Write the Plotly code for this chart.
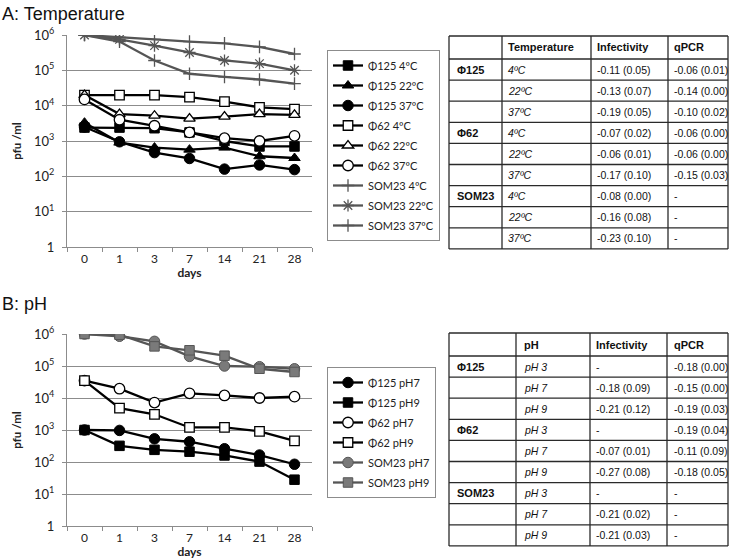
import plotly.graph_objects as go

days = ["0", "1", "3", "7", "14", "21", "28"]

# Panel A: Temperature (pfu/ml)
phi125_4 = [2400, 2400, 2300, 1750, 1000, 700, 700]
phi125_22 = [3300, 900, 650, 570, 650, 370, 330]
phi125_37 = [2500, 950, 470, 320, 160, 210, 155]
phi62_4 = [20000, 20000, 20000, 17500, 13000, 9000, 8000]
phi62_22 = [20000, 5800, 5200, 4300, 4900, 5800, 5500]
phi62_37 = [15000, 4000, 2700, 1750, 1200, 1000, 1400]
som23_4 = [1000000, 850000, 750000, 650000, 580000, 460000, 290000]
som23_22 = [1000000, 750000, 500000, 320000, 190000, 155000, 100000]
som23_37 = [1000000, 650000, 190000, 80000, 65000, 55000, 42000]

# Panel B: pH (pfu/ml)
phi125_ph7 = [1000, 970, 530, 430, 260, 165, 85]
phi125_ph9 = [1000, 320, 240, 210, 160, 103, 28]
phi62_ph7 = [35000, 19500, 7200, 14000, 12000, 10000, 11000]
phi62_ph9 = [35000, 4800, 3100, 1200, 1200, 910, 460]
som23_ph7 = [1000000, 850000, 590000, 200000, 100000, 95000, 82000]
som23_ph9 = [1000000, 950000, 410000, 310000, 210000, 82000, 65000]

ytick_vals = [1, 10, 100, 1000, 10000, 100000, 1000000]
ytick_text = ["1", "10<sup>1</sup>", "10<sup>2</sup>", "10<sup>3</sup>",
              "10<sup>4</sup>", "10<sup>5</sup>", "10<sup>6</sup>"]

# Tables
tA_header = ["", "Temperature", "Infectivity", "qPCR"]
tA_group = ["Φ125", "", "", "Φ62", "", "", "SOM23", "", ""]
tA_cond = ["4ºC", "22ºC", "37ºC"] * 3
tA_inf = ["-0.11 (0.05)", "-0.13 (0.07)", "-0.19 (0.05)", "-0.07 (0.02)", "-0.06 (0.01)",
          "-0.17 (0.10)", "-0.08 (0.00)", "-0.16 (0.08)", "-0.23 (0.10)"]
tA_qpcr = ["-0.06 (0.01)", "-0.14 (0.00)", "-0.10 (0.02)", "-0.06 (0.00)", "-0.06 (0.00)",
           "-0.15 (0.03)", "-", "-", "-"]

tB_header = ["", "pH", "Infectivity", "qPCR"]
tB_group = ["Φ125", "", "", "Φ62", "", "", "SOM23", "", ""]
tB_cond = ["pH 3", "pH 7", "pH 9"] * 3
tB_inf = ["-", "-0.18 (0.09)", "-0.21 (0.12)", "-", "-0.07 (0.01)", "-0.27 (0.08)",
          "-", "-0.21 (0.02)", "-0.21 (0.03)"]
tB_qpcr = ["-0.18 (0.00)", "-0.15 (0.00)", "-0.19 (0.03)", "-0.19 (0.04)", "-0.11 (0.09)",
           "-0.18 (0.05)", "-", "-", "-"]

W, H = 740, 559
BLACK = "#000000"
GRAY = "#555555"
GRAYM = "#7a7a7a"
GRID = "#8c8c8c"

fig = go.Figure()


def add(y, name, symbol, color, fill, mline, xa, ya, legend, size=9.5, lw=2.3, mlw=1):
    fig.add_trace(go.Scatter(
        x=days, y=y, name=name, mode="lines+markers", legendgroup=name,
        line=dict(color=color, width=lw),
        marker=dict(symbol=symbol, size=size, color=fill,
                    line=dict(color=mline, width=mlw)),
        xaxis=xa, yaxis=ya, legend=legend))


# Panel A
add(phi125_4, "Φ125 4ºC", "square", BLACK, BLACK, BLACK, "x", "y", "legend")
add(phi125_22, "Φ125 22ºC", "triangle-up", BLACK, BLACK, BLACK, "x", "y", "legend", size=10)
add(phi125_37, "Φ125 37ºC", "circle", BLACK, BLACK, BLACK, "x", "y", "legend", size=10.5)
add(phi62_4, "Φ62 4ºC", "square", BLACK, "white", BLACK, "x", "y", "legend", mlw=1.3)
add(phi62_22, "Φ62 22ºC", "triangle-up", BLACK, "white", BLACK, "x", "y", "legend", size=10, mlw=1.3)
add(phi62_37, "Φ62 37ºC", "circle", BLACK, "white", BLACK, "x", "y", "legend", size=10.5, mlw=1.3)
add(som23_4, "SOM23 4ºC", "cross-thin-open", GRAY, GRAY, GRAY, "x", "y", "legend", size=9, mlw=1.3)
add(som23_22, "SOM23 22ºC", "asterisk-open", GRAY, GRAY, GRAY, "x", "y", "legend", size=10, mlw=1.3)
add(som23_37, "SOM23 37ºC", "cross-thin-open", GRAY, GRAY, GRAY, "x", "y", "legend", size=9, mlw=1.3)

# Panel B
add(phi125_ph7, "Φ125 pH7", "circle", BLACK, BLACK, BLACK, "x2", "y2", "legend2", size=10.5)
add(phi125_ph9, "Φ125 pH9", "square", BLACK, BLACK, BLACK, "x2", "y2", "legend2")
add(phi62_ph7, "Φ62 pH7", "circle", BLACK, "white", BLACK, "x2", "y2", "legend2", size=10.5, mlw=1.3)
add(phi62_ph9, "Φ62 pH9", "square", BLACK, "white", BLACK, "x2", "y2", "legend2", mlw=1.3)
add(som23_ph7, "SOM23 pH7", "circle", GRAY, GRAYM, GRAY, "x2", "y2", "legend2", size=10.5)
add(som23_ph9, "SOM23 pH9", "square", GRAY, GRAYM, GRAY, "x2", "y2", "legend2")

# Tables drawn with shapes + annotations (paper coordinates)
hfont = dict(family="Liberation Sans, Arial, sans-serif", size=11, color="#111")
tfont = dict(family="Liberation Sans, Arial, sans-serif", size=10.5, color="#111")
shapes = []
annotations = []


def px(x):
    return x / W


def py(y):
    return 1 - y / H


def draw_table(header, group, cond, inf, qpcr, xb, y0, hh, rh, pads):
    nrows = len(group)
    ys = [y0, y0 + hh] + [y0 + hh + rh * (i + 1) for i in range(nrows)]
    line = dict(color="#2a2a2a", width=1.3)
    for yy in ys:
        shapes.append(dict(type="line", xref="paper", yref="paper",
                           x0=px(xb[0]), x1=px(xb[-1]), y0=py(yy), y1=py(yy), line=line))
    for xx in xb:
        shapes.append(dict(type="line", xref="paper", yref="paper",
                           x0=px(xx), x1=px(xx), y0=py(ys[0]), y1=py(ys[-1]), line=line))
    cols = [["<b>%s</b>" % g if g else "" for g in group],
            ["<i>%s</i>" % c for c in cond], inf, qpcr]
    for j, h in enumerate(header):
        if h:
            annotations.append(dict(text="<b>%s</b>" % h, x=px(xb[j] + pads[j]),
                                    y=py((ys[0] + ys[1]) / 2), xref="paper", yref="paper",
                                    xanchor="left", yanchor="middle", showarrow=False,
                                    font=hfont))
    for j, col in enumerate(cols):
        for i, v in enumerate(col):
            if v:
                annotations.append(dict(text=v, x=px(xb[j] + pads[j]),
                                        y=py((ys[i + 1] + ys[i + 2]) / 2),
                                        xref="paper", yref="paper", xanchor="left",
                                        yanchor="middle", showarrow=False,
                                        font=hfont if j == 0 else tfont))


draw_table(tA_header, tA_group, tA_cond, tA_inf, tA_qpcr,
           [449, 502, 591, 668, 728], 36, 23, 21.1, [6, 4, 4, 4])
draw_table(tB_header, tB_group, tB_cond, tB_inf, tB_qpcr,
           [449, 516, 590, 667, 728], 333, 23, 21.1, [6, 6, 4, 5])

cfont = dict(family="Lato, Carlito, sans-serif", color="#222")

xcommon = dict(type="category", tickson="boundaries", ticks="outside", ticklen=4,
               tickcolor=GRID, showline=True, linecolor=GRID, linewidth=1.2,
               showgrid=False, tickfont=dict(cfont, size=12), range=[-0.5, 6.5],
               automargin=False,
               title=dict(text="<b>days</b>", font=dict(cfont, size=12), standoff=4))
ycommon = dict(type="log", range=[0, 6], tickvals=ytick_vals, ticktext=ytick_text,
               showline=True, linecolor=GRID, linewidth=1.2, ticks="outside", ticklen=4,
               tickcolor=GRID, gridcolor=GRID, gridwidth=1.2, zeroline=False,
               tickfont=dict(cfont, size=13), automargin=False, ticklabelstandoff=5,
               title=dict(text="<b>pfu /ml</b>", font=dict(cfont, size=11.5), standoff=9))

legcommon = dict(xanchor="left", yanchor="top", bordercolor=GRID, borderwidth=1,
                 font=dict(cfont, size=11), itemwidth=30, tracegroupgap=1,
                 bgcolor="white")

annotations += [
    dict(text="A: Temperature", x=0, y=py(2), xref="paper", yref="paper",
         xanchor="left", yanchor="top", showarrow=False,
         font=dict(family="Liberation Sans, Arial, sans-serif", size=18, color="#111")),
    dict(text="B: pH", x=0, y=py(292), xref="paper", yref="paper",
         xanchor="left", yanchor="top", showarrow=False,
         font=dict(family="Liberation Sans, Arial, sans-serif", size=18, color="#111")),
]

xd = [px(67), px(312)]
fig.update_layout(
    width=W, height=H, margin=dict(l=0, r=0, t=0, b=0, autoexpand=False),
    paper_bgcolor="white", plot_bgcolor="white", showlegend=True,
    xaxis=dict(xcommon, domain=xd, anchor="y"),
    yaxis=dict(ycommon, domain=[py(247), py(35)], anchor="x"),
    xaxis2=dict(xcommon, domain=xd, anchor="y2"),
    yaxis2=dict(ycommon, domain=[py(526), py(334)], anchor="x2"),
    legend=dict(legcommon, x=px(327), y=py(50)),
    legend2=dict(legcommon, x=px(327), y=py(367)),
    shapes=shapes,
    annotations=annotations,
)

fig.write_html("out.html", config={"displayModeBar": False},
               post_script="document.body.style.margin='0px';")
